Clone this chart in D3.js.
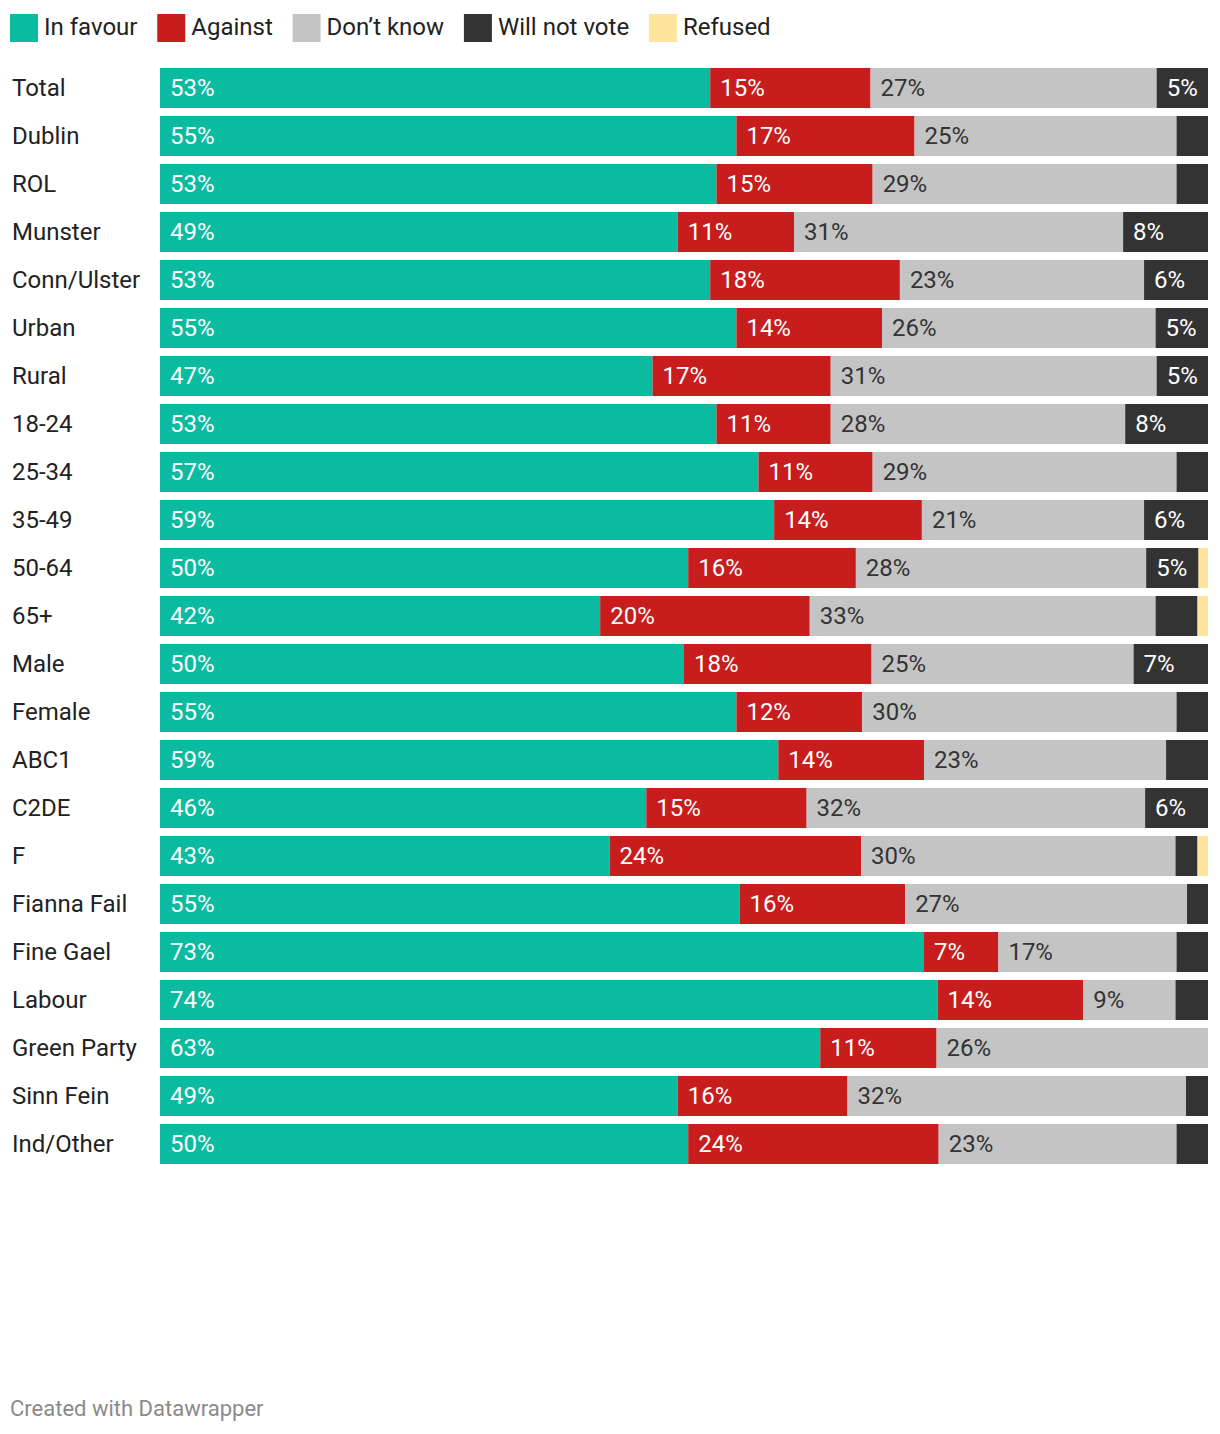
<!DOCTYPE html>
<html><head><meta charset="utf-8">
<script src="https://cdn.jsdelivr.net/npm/d3@7"></script>
<style>
body{margin:0;background:#fff;font-family:Roboto,"Noto Sans",sans-serif;}
</style></head>
<body><svg id="chart" width="1220" height="1434"></svg>
<script>
const categories = ["Total","Dublin","ROL","Munster","Conn/Ulster","Urban","Rural","18-24","25-34","35-49","50-64","65+","Male","Female","ABC1","C2DE","F","Fianna Fail","Fine Gael","Labour","Green Party","Sinn Fein","Ind/Other"];
const seriesNames = ["In favour","Against","Don’t know","Will not vote","Refused"];
const inFavour   = [52.5,55,53.1,49.4,52.5,55,47,53.1,57.1,58.6,50.4,42,50,55,59,46.4,42.9,55.3,72.9,74.2,63,49.4,50.4];
const against    = [15.3,17,14.9,11.1,18.1,13.9,17,10.9,10.9,14.1,16,20,17.9,12,13.9,15.3,24,15.8,7.1,13.9,11.1,16.2,23.9];
const dontKnow   = [27.3,25,29,31.4,23.3,26.1,31.1,28.1,29,21.2,27.7,33,25,30,23.1,32.3,30,26.9,17,8.8,25.9,32.3,22.7];
const willNotVote= [4.9,3,3,8.1,6.1,5,4.9,7.9,3,6.1,5,4,7.1,3,4,6,2.1,2,3,3.1,0,2.1,3];
const refused    = [0,0,0,0,0,0,0,0,0,0,0.9,1,0,0,0,0,1,0,0,0,0,0,0];
const colors = ["#0abba0","#c71d1d","#c4c4c4","#333333","#fee39c"];
const textColors = ["#fff","#fff","#333","#fff","#333"];

const series = [inFavour, against, dontKnow, willNotVote, refused];
const rows = categories.map((c,i)=>{
  const o = {cat:c};
  seriesNames.forEach((s,j)=>o[s]=series[j][i]);
  return o;
});

const svg = d3.select("#chart");
const x = d3.scaleLinear().domain([0,100]).range([160,1208]);
const y = d3.scaleBand().domain(categories).range([68, 68+48*categories.length-8]).paddingInner(8/48).paddingOuter(0);
const stack = d3.stack().keys(seriesNames)(rows);

// legend
let lx = 10;
const leg = svg.append("g");
seriesNames.forEach((s,i)=>{
  const g = leg.append("g").attr("transform",`translate(${lx},14)`);
  g.append("rect").attr("width",28).attr("height",28).attr("fill",colors[i]);
  const t = g.append("text").attr("x",34).attr("y",20.5).attr("font-size",24).attr("fill","#222").text(s);
  lx += 34 + t.node().getComputedTextLength() + 19.8;
});

// row labels
svg.append("g").selectAll("text").data(categories).join("text")
  .attr("x",12).attr("y",d=>y(d)+y.bandwidth()/2).attr("dy","0.35em")
  .attr("font-size",24).attr("fill","#222").text(d=>d);

stack.forEach((layer,i)=>{
  const g = svg.append("g");
  g.selectAll("rect").data(layer).join("rect")
    .attr("x",d=>x(d[0])).attr("width",d=>Math.max(0,x(d[1])-x(d[0])))
    .attr("y",d=>y(d.data.cat)).attr("height",y.bandwidth())
    .attr("fill",colors[i]);
  g.selectAll("text").data(layer.filter(d=>x(d[1])-x(d[0])>46)).join("text")
    .attr("x",d=>x(d[0])+10).attr("y",d=>y(d.data.cat)+y.bandwidth()/2).attr("dy","0.35em")
    .attr("font-size",24).attr("fill",textColors[i])
    .text(d=>Math.round(d[1]-d[0])+"%");
});

svg.append("text").attr("x",10).attr("y",1416).attr("font-size",22).attr("fill","#8a8a8a").text("Created with Datawrapper");
</script></body></html>
